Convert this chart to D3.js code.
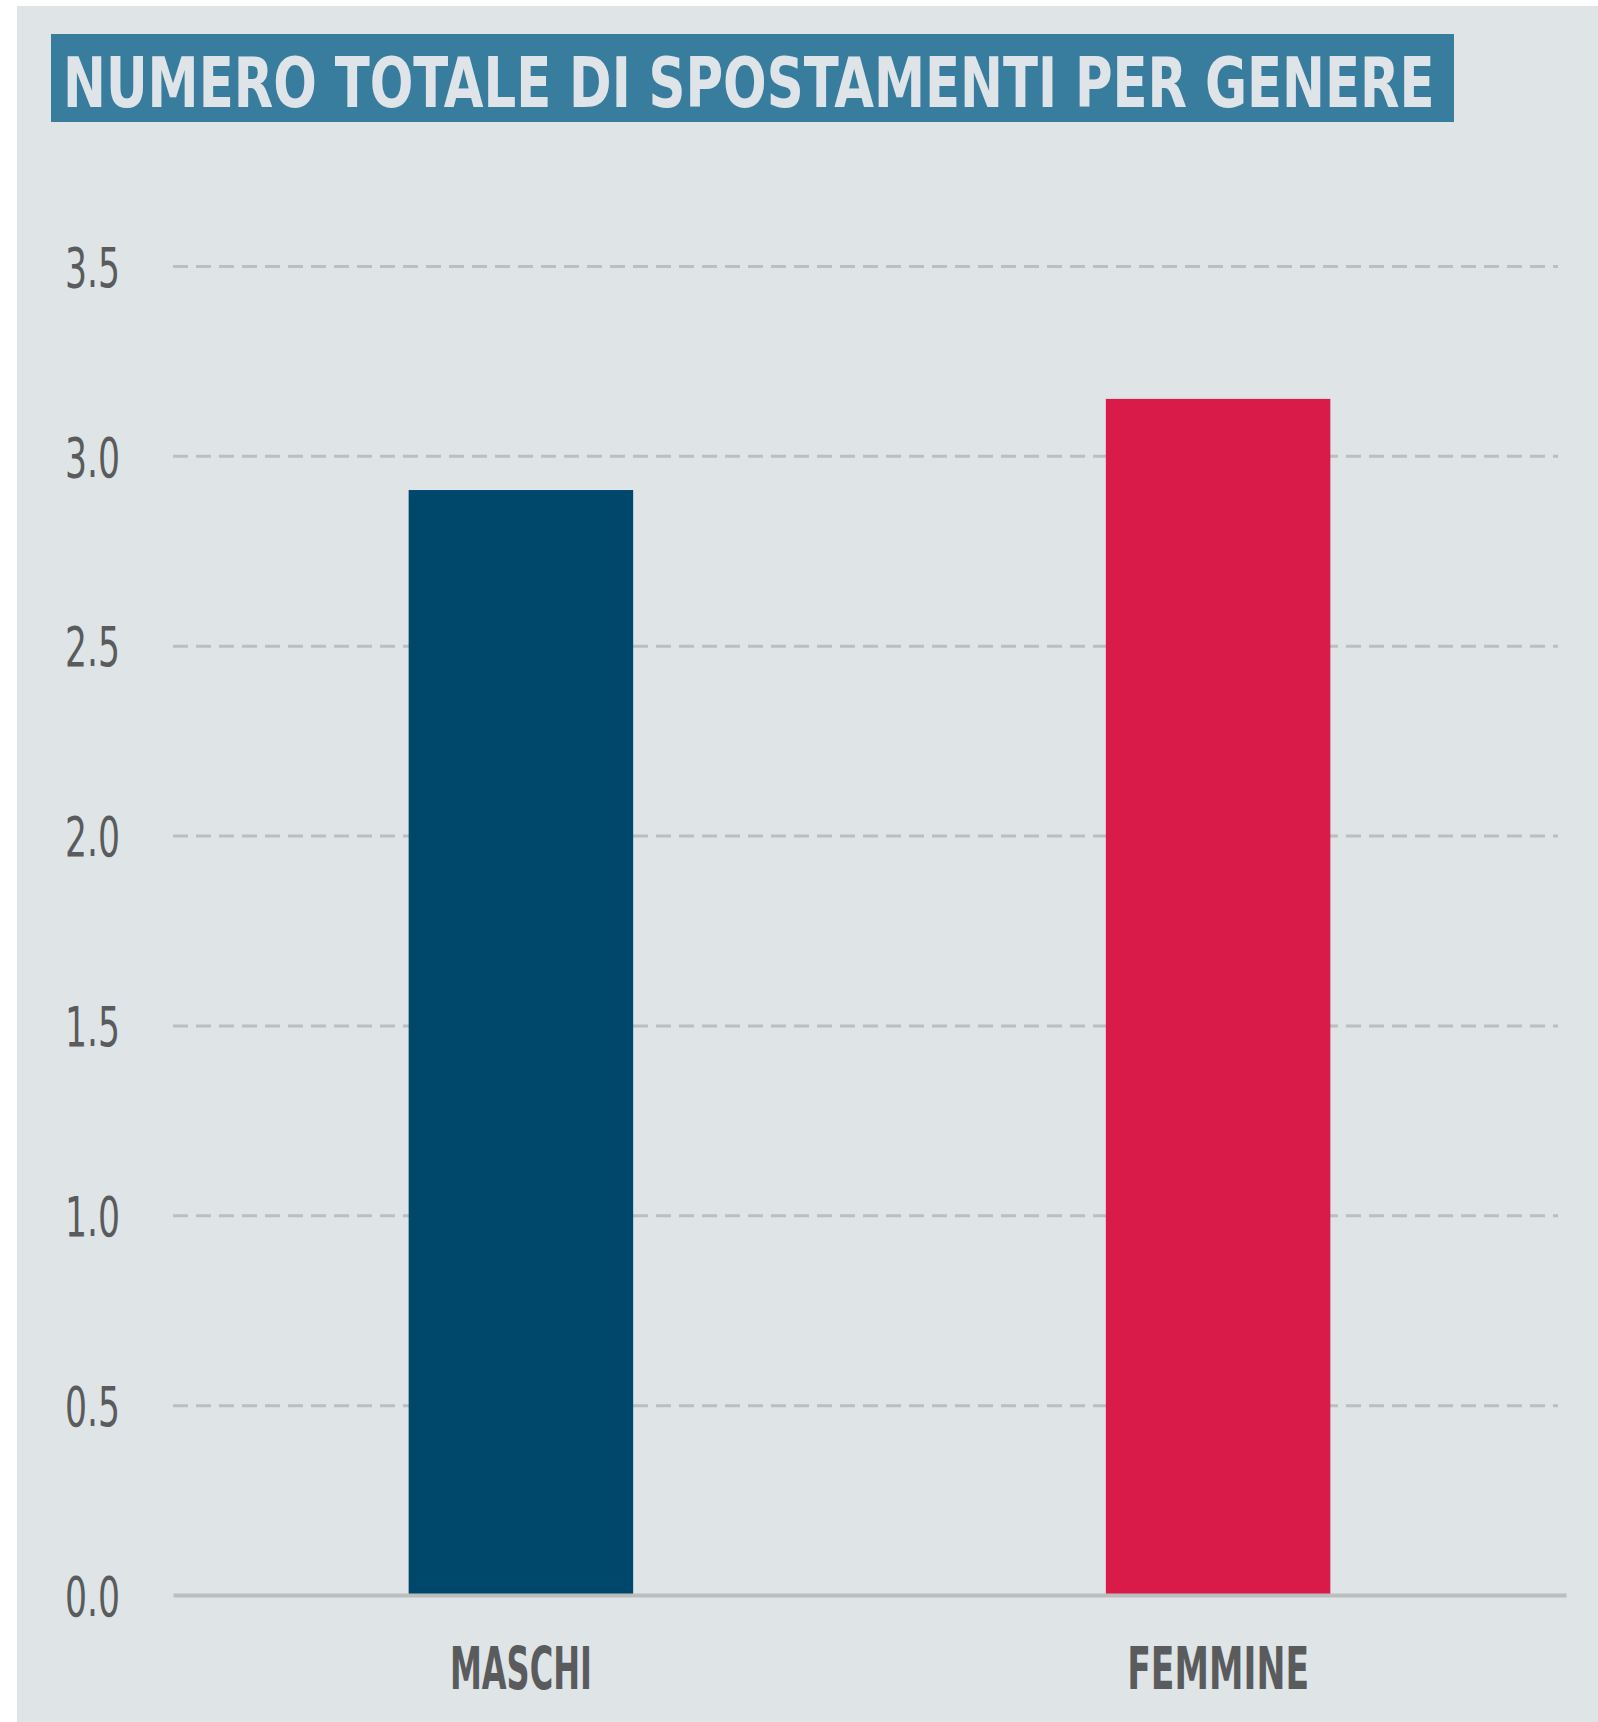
<!DOCTYPE html>
<html>
<head>
<meta charset="utf-8">
<script src="https://cdn.jsdelivr.net/npm/d3@7"></script>
<style>
  html, body { margin: 0; padding: 0; background: #ffffff; }
  svg { display: block; }
</style>
</head>
<body>
<div id="chart"></div>
<script>
// ---- data ----
const categories = ["MASCHI", "FEMMINE"];
const values = [2.91, 3.15];
const barColors = ["#00486b", "#d91b4a"];
const yTicks = [0, 0.5, 1, 1.5, 2, 2.5, 3, 3.5];
const yTickLabels = ["0.0", "0.5", "1.0", "1.5", "2.0", "2.5", "3.0", "3.5"];
const titleText = "NUMERO TOTALE DI SPOSTAMENTI PER GENERE";

const W = 1598, H = 1722;
const FONT = "'Liberation Sans Narrow', 'DejaVu Sans Condensed', 'Roboto Condensed', 'Liberation Sans', sans-serif";

const svg = d3.select("#chart").append("svg")
  .attr("width", W).attr("height", H);

// squeeze a text horizontally to a target width, anchored at its x/y
function squeeze(sel, target) {
  sel.each(function () {
    const t = d3.select(this);
    const w = this.getComputedTextLength();
    const k = target / w;
    const ax = +t.attr("x") || 0;
    const ay = +t.attr("y") || 0;
    t.attr("transform", `translate(${ax},${ay}) scale(${k},1) translate(${-ax},${-ay})`);
  });
}

// panel background
svg.append("rect").attr("x", 17).attr("y", 6)
  .attr("width", W - 17).attr("height", H - 6)
  .attr("fill", "#dfe4e7");

// title box
svg.append("rect").attr("x", 51).attr("y", 34)
  .attr("width", 1403).attr("height", 88)
  .attr("fill", "#387c9e");
svg.append("text")
  .attr("x", 63).attr("y", 107)
  .attr("font-family", FONT)
  .attr("font-weight", "bold")
  .attr("font-size", 70)
  .attr("fill", "#dfe4e8")
  .text(titleText)
  .call(squeeze, 1372);

// scales
const x = d3.scaleBand()
  .domain(categories)
  .range([173, 1566])
  .paddingInner(0.678)
  .paddingOuter(0.338);

const y = d3.scaleLinear()
  .domain([0, 3.5])
  .range([1595, 266]);

// gridlines
const grid = svg.append("g")
  .attr("transform", "translate(173,0)")
  .call(d3.axisLeft(y).tickValues(yTicks.filter(d => d > 0)).tickSize(-(1558 - 173)).tickFormat(""));
grid.select(".domain").remove();
grid.selectAll(".tick line")
  .attr("stroke", "#bcbec0")
  .attr("stroke-width", 3)
  .attr("stroke-dasharray", "15,8");

// y tick labels
const yAxis = svg.append("g")
  .attr("transform", "translate(120,0)")
  .call(d3.axisLeft(y).tickValues(yTicks).tickSize(0).tickPadding(0)
    .tickFormat((d, i) => yTickLabels[i]));
yAxis.select(".domain").remove();
yAxis.selectAll(".tick text")
  .attr("font-family", FONT)
  .attr("font-size", 56)
  .attr("fill", "#5a5b5d")
  .attr("dy", "0.36em")
  .call(squeeze, 55);

// bars
svg.append("g").selectAll("rect")
  .data(categories)
  .join("rect")
  .attr("x", d => x(d))
  .attr("width", x.bandwidth())
  .attr("y", (d, i) => y(values[i]))
  .attr("height", (d, i) => y(0) - y(values[i]))
  .attr("fill", (d, i) => barColors[i]);

// baseline axis
const xAxis = svg.append("g")
  .attr("transform", `translate(0,${y(0)})`)
  .call(d3.axisBottom(x).tickSize(0).tickPadding(0));
xAxis.select(".domain")
  .attr("stroke", "#bcbdbf")
  .attr("stroke-width", 4);
const catWidths = [142, 182];
xAxis.selectAll(".tick text")
  .attr("font-family", FONT)
  .attr("font-weight", "bold")
  .attr("font-size", 58)
  .attr("fill", "#5a5b5d")
  .attr("y", 94)
  .attr("dy", 0)
  .each(function (d, i) { d3.select(this).call(squeeze, catWidths[i]); });
</script>
</body>
</html>
